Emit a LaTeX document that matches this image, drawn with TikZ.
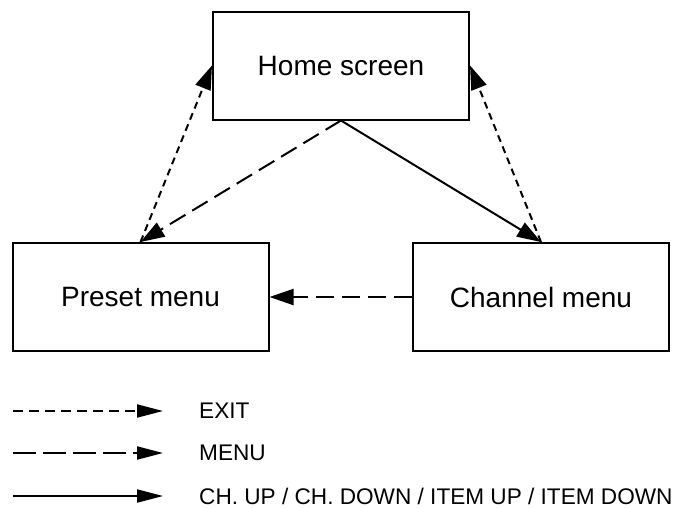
\documentclass[tikz,border=0pt]{standalone}
\usepackage{fontspec}
\setmainfont{Liberation Sans}
\usetikzlibrary{arrows.meta}
\begin{document}
\begin{tikzpicture}[x=1pt,y=-1pt,
  box/.style={draw,line width=2pt,minimum width=256pt,minimum height=108pt,inner sep=0pt,font=\fontsize{28}{32}\selectfont},
  conn/.style={line width=2pt,-{Triangle[length=24pt,width=16pt]}},
  exitline/.style={conn,dash pattern=on 7pt off 5pt},
  menuline/.style={conn,dash pattern=on 18pt off 8pt},
  legarrow/.style={line width=2pt,-{Triangle[length=26pt,width=13pt]}},
  legexit/.style={legarrow,dash pattern=on 10pt off 6pt},
  legmenu/.style={legarrow,dash pattern=on 23pt off 7pt},
  legtext/.style={anchor=west,inner sep=0pt,font=\fontsize{22.6}{26}\selectfont}]
\useasboundingbox (0,0) rectangle (684,507);
\node[box] (home) at (341,65.5) {Home screen};
\node[box] (preset) at (140.5,297) {Preset menu};
\node[box] (channel) at (541,297) {Channel menu};
\draw[exitline] (preset.north) -- (home.west);
\draw[exitline] (channel.north) -- (home.east);
\draw[menuline] (home.south) -- (preset.north);
\draw[conn] (home.south) -- (channel.north);
\draw[menuline] (channel.west) -- (preset.east);
% legend
\coordinate (s1) at (13,411);
\coordinate (e1) at (163,411);
\coordinate (s2) at (13,453);
\coordinate (e2) at (163,453);
\coordinate (s3) at (13,496);
\coordinate (e3) at (163,496);
\draw[legexit] (s1) -- (e1);
\draw[legmenu] (s2) -- (e2);
\draw[legarrow] (s3) -- (e3);
\node[legtext] (t1) at (199,411) {EXIT};
\node[legtext] (t2) at (199,453) {MENU};
\node[legtext] (t3) at (199,496) {CH. UP / CH. DOWN / ITEM UP / ITEM DOWN};
\end{tikzpicture}
\end{document}
